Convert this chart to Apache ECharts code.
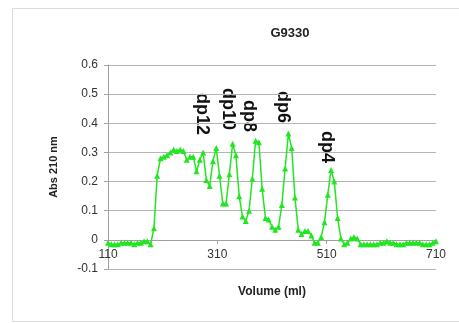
<!DOCTYPE html>
<html>
<head>
<meta charset="utf-8">
<script src="https://cdn.jsdelivr.net/npm/echarts@6/dist/echarts.min.js"></script>
<style>
  html, body { margin: 0; padding: 0; background: #ffffff; }
  #chart { width: 459px; height: 323px; }
</style>
</head>
<body>
<div id="chart"></div>
<script>
// elution volume (ml) of each fraction
const volumes = [
  110, 116, 122, 128, 134, 140, 146, 152, 158, 164,
  170, 176, 182, 188, 194, 200, 206, 212, 218, 224,
  230, 236, 242, 248, 254, 260, 266, 272, 278, 284,
  290, 296, 302, 308, 314, 320, 326, 332, 338, 344,
  350, 356, 362, 368, 374, 380, 386, 392, 398, 404,
  410, 416, 422, 428, 434, 440, 446, 452, 458, 464,
  470, 476, 482, 488, 494, 500, 506, 512, 518, 524,
  530, 536, 542, 548, 554, 560, 566, 572, 578, 584,
  590, 596, 602, 608, 614, 620, 626, 632, 638, 644,
  650, 656, 662, 668, 674, 680, 686, 692, 698, 704,
  710
]
// Abs 210 nm
const absorbance = [
  -0.01, -0.015, -0.015, -0.015, -0.01, -0.01, -0.01, -0.01, -0.015, -0.01,
  -0.01, -0.005, -0.005, -0.015, 0.04, 0.22, 0.28, 0.285, 0.29, 0.30,
  0.31, 0.305, 0.31, 0.305, 0.275, 0.285, 0.285, 0.235, 0.275, 0.30,
  0.205, 0.185, 0.27, 0.315, 0.22, 0.125, 0.125, 0.225, 0.33, 0.29,
  0.15, 0.08, 0.065, 0.10, 0.21, 0.34, 0.335, 0.175, 0.075, 0.07,
  0.045, 0.035, 0.045, 0.12, 0.245, 0.365, 0.315, 0.145, 0.035, 0.02,
  0.03, 0.03, 0.015, -0.01, -0.01, 0.01, 0.06, 0.155, 0.24, 0.20,
  0.075, 0.005, -0.015, -0.01, 0.005, 0.01, 0.005, -0.015, -0.015, -0.015,
  -0.015, -0.015, -0.015, -0.01, -0.01, -0.005, -0.01, -0.01, -0.015, -0.015,
  -0.015, -0.01, -0.01, -0.01, -0.01, -0.01, -0.015, -0.015, -0.015, -0.01,
  -0.005
]
const yTicks = { min: -0.1, max: 0.6, step: 0.1 }
const peakLabels = ['dp12', 'dp10', 'dp8', 'dp6', 'dp4']

const chart = echarts.init(document.getElementById('chart'))

// label anchors (center x, top y in px)
const labelPos = [[202, 93], [228, 88], [249, 100], [283, 91], [327, 131]]

const gridTop = 65
const gridBottom = 54
const plotH = 323 - gridTop - gridBottom
// the x axis sits on y = 0, like the excel chart
const zeroOffset = -plotH * (0 - yTicks.min) / (yTicks.max - yTicks.min)

const option = {
  animation: false,
  title: {
    text: 'G9330',
    left: 285,
    top: 22,
    textAlign: 'center',
    textStyle: { fontFamily: 'Liberation Sans', fontSize: 13, fontWeight: 'bold', color: '#222' }
  },
  grid: { left: 108, right: 23, top: gridTop, bottom: gridBottom, containLabel: false, outerBoundsMode: 'none' },
  xAxis: {
    type: 'value',
    min: 110,
    max: 710,
    interval: 200,
    offset: zeroOffset,
    name: 'Volume (ml)',
    nameLocation: 'middle',
    nameGap: 46,
    nameTextStyle: { fontFamily: 'Liberation Sans', fontSize: 12, fontWeight: 'bold', color: '#222' },
    axisLine: { onZero: false, lineStyle: { color: '#a0a0a0' } },
    axisTick: { show: true, length: 4, lineStyle: { color: '#a0a0a0' } },
    axisLabel: { fontFamily: 'Liberation Sans', fontSize: 12, color: '#333', margin: 9 },
    splitLine: { show: false }
  },
  yAxis: {
    type: 'value',
    min: yTicks.min,
    max: yTicks.max,
    interval: yTicks.step,
    name: 'Abs 210 nm',
    nameLocation: 'middle',
    nameGap: 49,
    nameTextStyle: { fontFamily: 'Liberation Sans', fontSize: 11, fontWeight: 'bold', color: '#222' },
    axisLine: { show: true, lineStyle: { color: '#a0a0a0' } },
    axisTick: { show: true, length: 4, lineStyle: { color: '#a0a0a0' } },
    axisLabel: { fontFamily: 'Liberation Sans', fontSize: 12, color: '#333', margin: 10 },
    splitLine: { show: true, lineStyle: { color: '#b4b4b4' } }
  },
  series: [
    {
      type: 'line',
      data: volumes.map((v, i) => [v, absorbance[i]]),
      symbol: 'triangle',
      symbolSize: 6,
      lineStyle: { color: '#22e622', width: 1.5 },
      itemStyle: { color: '#22e622' }
    }
  ],
  graphic: [
    {
      type: 'rect',
      shape: { x: 12.5, y: 8.5, width: 460, height: 313 },
      style: { fill: 'none', stroke: '#dcdcdc', lineWidth: 1 },
      silent: true
    }
  ].concat(peakLabels.map((t, i) => ({
    type: 'text',
    x: labelPos[i][0],
    y: labelPos[i][1],
    rotation: -Math.PI / 2,
    style: {
      text: t,
      fontFamily: 'Liberation Sans',
      fontSize: 18,
      fontWeight: 'bold',
      fill: '#111',
      textAlign: 'left',
      textVerticalAlign: 'middle'
    }
  })))
}

chart.setOption(option)
</script>
</body>
</html>
